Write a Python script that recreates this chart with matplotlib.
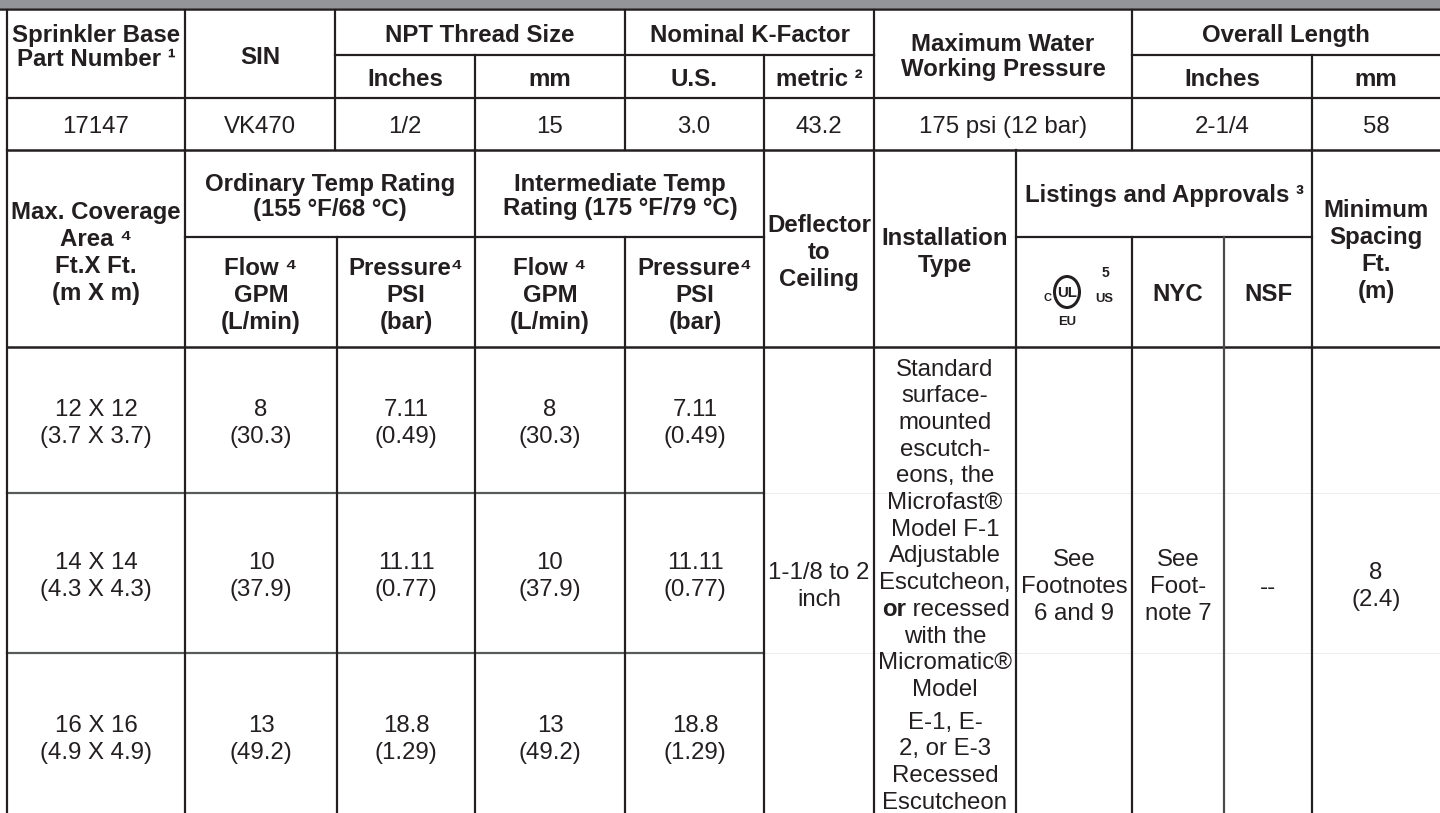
import matplotlib.pyplot as plt
from matplotlib.patches import Ellipse, Rectangle

# ---- table content ----
part_number = "17147"
sin_code = "VK470"
npt_inches = "1/2"
npt_mm = "15"
k_factor_us = "3.0"
k_factor_metric = "43.2"
max_pressure = "175 psi (12 bar)"
length_inches = "2-1/4"
length_mm = "58"

coverage_ft = ["12 X 12", "14 X 14", "16 X 16"]
coverage_m = ["(3.7 X 3.7)", "(4.3 X 4.3)", "(4.9 X 4.9)"]
ord_flow_gpm = ["8", "10", "13"]
ord_flow_lpm = ["(30.3)", "(37.9)", "(49.2)"]
ord_psi = ["7.11", "11.11", "18.8"]
ord_bar = ["(0.49)", "(0.77)", "(1.29)"]
int_flow_gpm = ["8", "10", "13"]
int_flow_lpm = ["(30.3)", "(37.9)", "(49.2)"]
int_psi = ["7.11", "11.11", "18.8"]
int_bar = ["(0.49)", "(0.77)", "(1.29)"]

deflector_text = ["1-1/8 to 2", "inch"]
install_text_a = ["Standard", "surface-", "mounted", "escutch-", "eons, the",
                  "Microfast®", "Model F-1", "Adjustable", "Escutcheon,",
                  "or recessed", "with the", "Micromatic®", "Model"]
install_text_b = ["E-1, E-", "2, or E-3", "Recessed", "Escutcheon"]
ul_text = ["See", "Footnotes", "6 and 9"]
nyc_text = ["See", "Foot-", "note 7"]
nsf_text = ["--"]
spacing_text = ["8", "(2.4)"]

INK = "#231f20"
GRAY_BAR = "#939598"
FONT = ["Liberation Sans", "DejaVu Sans"]
W, H, DPI = 1440, 813, 100

fig = plt.figure(figsize=(W / DPI, H / DPI), dpi=DPI)
ax = fig.add_axes([0, 0, 1, 1])
ax.set_xlim(0, W)
ax.set_ylim(H, 0)
ax.axis("off")


def px(v):
    return v * 72 / DPI


def put_lines(x, yc, lines, size=24, bold=False, gap=27):
    n = len(lines)
    for i, line in enumerate(lines):
        y = yc + (i - (n - 1) / 2) * gap
        ax.text(x, y + 0.358 * size, line, ha="center", va="baseline",
                fontsize=px(size), fontweight="bold" if bold else "normal",
                color=INK, family=FONT)


def hline(y, x0, x1, color=INK, w=2.2):
    ax.plot([x0, x1], [y, y], color=color, lw=px(w), solid_capstyle="projecting")


def vline(x, y0, y1, color=INK, w=2.2):
    ax.plot([x, x], [y0, y1], color=color, lw=px(w), solid_capstyle="projecting")


# gray title strip
ax.add_patch(Rectangle((0, 0), W, 8.5, color=GRAY_BAR, lw=0))
hline(9.5, 0, W, w=2.5)

# ---- top table grid ----
hline(55, 335, 874)
hline(55, 1132, W)
hline(98, 7, W)
hline(150, 7, W, w=2.5)
for x in [7, 185, 335, 625, 874, 1132]:
    vline(x, 10, 150)
for x in [475, 764, 1312]:
    vline(x, 55, 150)

# ---- lower table grid ----
hline(237, 185, 764)
hline(237, 1016, 1312)
hline(347, 7, W, w=2.5)
for y in [493, 653]:
    hline(y, 7, 764, color="#58595b")
    hline(y, 764, W, color="#ececec", w=1)
for x in [7, 185, 475, 764, 874, 1016, 1312]:
    vline(x, 150, H + 5)
for x in [337, 625, 1132]:
    vline(x, 237, H + 5)
vline(1224, 237, H + 5, color="#4a4a4a")

# ---- top table text ----
HB = 24
put_lines(96, 45, ["Sprinkler Base", "Part Number ¹"], HB, True, 24)
put_lines(260, 55, ["SIN"], HB, True)
put_lines(480, 33, ["NPT Thread Size"], HB, True)
put_lines(405, 77, ["Inches"], HB, True)
put_lines(550, 77, ["mm"], HB, True)
put_lines(750, 33, ["Nominal K-Factor"], HB, True)
put_lines(694, 77, ["U.S."], HB, True)
put_lines(819, 77, ["metric ²"], HB, True)
put_lines(1003, 55, ["Maximum Water", "Working Pressure"], HB, True, 25)
put_lines(1286, 33, ["Overall Length"], HB, True)
put_lines(1222, 77, ["Inches"], HB, True)
put_lines(1376, 77, ["mm"], HB, True)

top_row = [(96, part_number), (260, sin_code), (405, npt_inches), (550, npt_mm),
           (694, k_factor_us), (819, k_factor_metric), (1003, max_pressure),
           (1222, length_inches), (1376, length_mm)]
for x, s in top_row:
    put_lines(x, 124, [s])

# ---- lower table header ----
put_lines(96, 251, ["Max. Coverage", "Area ⁴", "Ft.X Ft.", "(m X m)"], HB, True)
put_lines(330, 195, ["Ordinary Temp Rating", "(155 °F/68 °C)"], HB, True, 25)
put_lines(620, 194, ["Intermediate Temp", "Rating (175 °F/79 °C)"], HB, True, 24)
for x in [261, 550]:
    put_lines(x, 293, ["Flow ⁴", "GPM", "(L/min)"], HB, True)
for x in [406, 695]:
    put_lines(x, 293, ["Pressure⁴", "PSI", "(bar)"], HB, True)
put_lines(819, 250, ["Deflector", "to", "Ceiling"], HB, True)
put_lines(945, 250, ["Installation", "Type"], HB, True)
put_lines(1164, 193, ["Listings and Approvals ³"], HB, True)
put_lines(1178, 292, ["NYC"], HB, True)
put_lines(1268, 292, ["NSF"], HB, True)
put_lines(1376, 249, ["Minimum", "Spacing", "Ft.", "(m)"], HB, True)


def mark(x, yc, s, size):
    ax.text(x, yc + 0.358 * size, s, ha="center", va="baseline",
            fontsize=px(size), fontweight="bold", color=INK, family=FONT)


# UL mark
ax.add_patch(Ellipse((1067, 292), 25, 31, fill=False, ec=INK, lw=px(3)))
mark(1067, 292, "UL", 15)
mark(1047, 297, "C", 11)
mark(1104, 297, "US", 13)
mark(1067, 320, "EU", 13)
mark(1105, 272, "5", 14)

# ---- lower table data ----
row_centers = [421, 574, 737]
for i, yc in enumerate(row_centers):
    put_lines(96, yc, [coverage_ft[i], coverage_m[i]])
    put_lines(261, yc, [ord_flow_gpm[i], ord_flow_lpm[i]])
    put_lines(406, yc, [ord_psi[i], ord_bar[i]])
    put_lines(550, yc, [int_flow_gpm[i], int_flow_lpm[i]])
    put_lines(695, yc, [int_psi[i], int_bar[i]])

put_lines(819, 584, deflector_text)
put_lines(1074, 584, ul_text)
put_lines(1178, 584, nyc_text)
put_lines(1268, 585, nsf_text)
put_lines(1376, 584, spacing_text)

# installation column, drawn line by line ("or" is bold)
for i, line in enumerate(install_text_a):
    y = 367 + i * 26.7 + 0.358 * 24
    if line.startswith("or "):
        ax.text(906, y, "or", ha="right", va="baseline", fontsize=px(24),
                fontweight="bold", color=INK, family=FONT)
        ax.text(906, y, line[2:], ha="left", va="baseline", fontsize=px(24),
                color=INK, family=FONT)
    else:
        ax.text(945, y, line, ha="center", va="baseline", fontsize=px(24),
                color=INK, family=FONT)
put_lines(945, 760, install_text_b, gap=26.7)

fig.savefig("out.png", dpi=DPI)
